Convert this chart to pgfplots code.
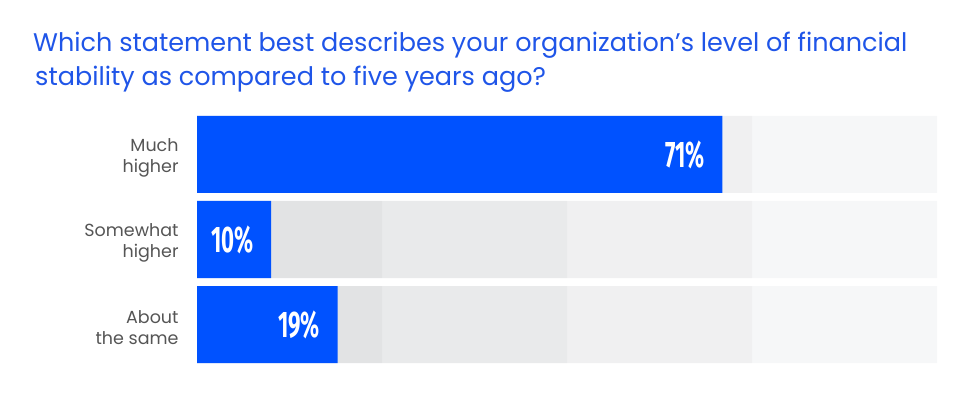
\documentclass[border=0pt]{standalone}
\usepackage{fontspec}
\setmainfont{Poppins}
\newfontfamily\numfont{Fira Sans}
\usepackage{graphicx}
\usepackage{pgfplots}
\pgfplotsset{compat=1.18}
\definecolor{barblue}{HTML}{0052FF}
\definecolor{titleblue}{HTML}{1F55E8}
\definecolor{labgrey}{HTML}{555555}
\definecolor{bandA}{HTML}{E2E3E4}
\definecolor{bandB}{HTML}{E9EAEB}
\definecolor{bandC}{HTML}{F0F0F1}
\definecolor{bandD}{HTML}{F6F7F8}
\pgfplotsset{common/.style={
  scale only axis, width=740pt, height=247pt,
  xmin=0, xmax=100, ymin=-0.4529, ymax=2.4529, y dir=reverse,
  enlargelimits=false, bar width=77pt,
  at={(197pt,33pt)}, anchor=south west}}
\begin{document}
\begin{tikzpicture}
\path[use as bounding box] (0,0) rectangle (975pt,396pt);
\node[anchor=base west, text=titleblue, font=\fontsize{25.5}{30}\selectfont, inner sep=0pt] at (33pt,344pt) {Which statement best describes your organization’s level of financial};
\node[anchor=base west, text=titleblue, font=\fontsize{25.5}{30}\selectfont, inner sep=0pt] at (35pt,310pt) {stability as compared to five years ago?};
\begin{axis}[common, hide axis, xbar stacked, bar shift=0pt]
\addplot[fill=bandA, draw=none, bar shift=0pt] coordinates {(25,0) (25,1) (25,2)};
\addplot[fill=bandB, draw=none, bar shift=0pt] coordinates {(25,0) (25,1) (25,2)};
\addplot[fill=bandC, draw=none, bar shift=0pt] coordinates {(25,0) (25,1) (25,2)};
\addplot[fill=bandD, draw=none, bar shift=0pt] coordinates {(25,0) (25,1) (25,2)};
\end{axis}
\begin{axis}[common, xbar, bar shift=0pt,
  axis line style={draw=none}, tick style={draw=none},
  xtick=\empty, ytick={0,1,2},
  yticklabels={{Much\\higher},{Somewhat\\higher},{About\\the same}},
  yticklabel style={align=right, font=\fontsize{17.5}{21}\selectfont, text=labgrey, inner sep=0pt, xshift=-14pt, yshift=-3pt},
  /pgf/number format/assume math mode=true,
  nodes near coords={\scalebox{0.6}[1]{\pgfmathprintnumber{\pgfplotspointmeta}\%}},
  every node near coord/.append style={anchor=east, xshift=-14pt, text=white, font=\numfont\bfseries\fontsize{37}{40}\selectfont}]
\addplot[fill=barblue, draw=none] coordinates {(71,0) (10,1) (19,2)};
\end{axis}
\end{tikzpicture}
\end{document}
